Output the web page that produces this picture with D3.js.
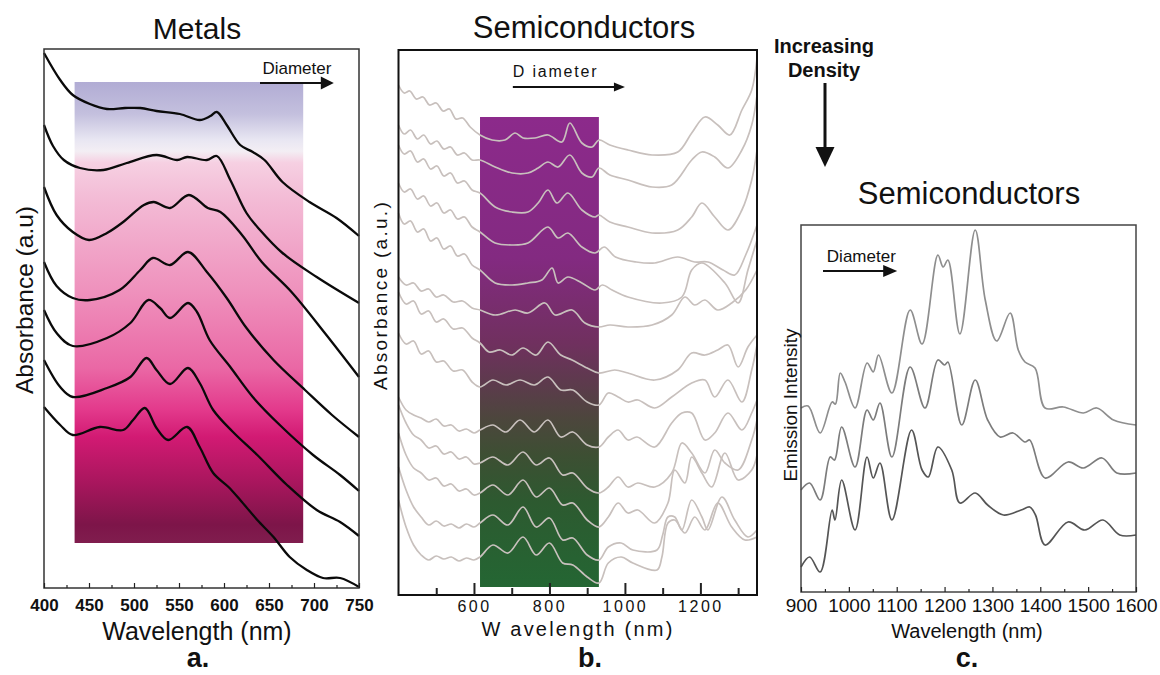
<!DOCTYPE html>
<html>
<head>
<meta charset="utf-8">
<script src="https://cdn.jsdelivr.net/npm/d3@7"></script>
<style>
  body { margin: 0; background: #fff; }
  text { font-family: "Liberation Sans", Arial, Helvetica, sans-serif; fill: #111; }
</style>
</head>
<body>
<div id="chart"></div>
<script>
// ---- panel a: metal nanoparticle absorbance, offset traces [nm, a.u.] ----
const metalTicks = [400, 450, 500, 550, 600, 650, 700, 750];
const metalMinorTicks = [425, 475, 525, 575, 625, 675, 725];
const metalTraces = [
  [[400,5.35],[418,5.08],[432,4.93],[451,4.84],[470,4.79],[490,4.80],[507,4.80],[525,4.77],[551,4.74],[573,4.68],[585,4.72],[592,4.76],[603,4.63],[618,4.43],[632,4.36],[645,4.28],[665,4.06],[695,3.86],[725,3.70],[750,3.52]],
  [[400,4.63],[410,4.42],[422,4.28],[440,4.20],[466,4.18],[492,4.25],[525,4.33],[548,4.28],[559,4.31],[581,4.28],[592,4.32],[607,4.08],[625,3.75],[640,3.58],[665,3.35],[703,3.11],[750,2.85]],
  [[400,4.01],[414,3.73],[432,3.56],[450,3.48],[470,3.55],[488,3.66],[511,3.83],[522,3.86],[540,3.80],[561,3.93],[582,3.80],[596,3.76],[620,3.53],[642,3.26],[675,2.96],[712,2.55],[750,2.11]],
  [[400,3.26],[414,3.02],[432,2.90],[451,2.88],[484,2.98],[507,3.18],[521,3.30],[540,3.23],[560,3.36],[581,3.16],[603,2.90],[625,2.60],[655,2.28],[690,1.98],[720,1.73],[750,1.51]],
  [[400,2.78],[414,2.55],[432,2.42],[470,2.50],[496,2.65],[516,2.88],[529,2.80],[540,2.70],[560,2.85],[570,2.76],[584,2.48],[607,2.21],[632,1.91],[662,1.63],[699,1.33],[729,1.13],[750,0.97]],
  [[400,2.28],[418,2.01],[432,1.91],[470,2.00],[496,2.11],[514,2.30],[525,2.18],[540,2.04],[560,2.20],[573,2.05],[588,1.78],[610,1.56],[637,1.33],[670,1.03],[703,0.78],[729,0.66],[750,0.52]],
  [[400,1.81],[418,1.63],[432,1.53],[462,1.61],[488,1.58],[499,1.68],[512,1.80],[525,1.60],[538,1.48],[559,1.61],[573,1.41],[588,1.15],[605,1.01],[618,0.88],[637,0.68],[655,0.51],[673,0.31],[692,0.18],[710,0.10],[729,0.10],[750,0.01]]
];
const metalBand = { x0: 434, x1: 688, y0: 0.45, y1: 5.06 };

// ---- panel b: semiconductor absorbance, offset traces [nm, a.u.] ----
const semiTicks = [600, 800, 1000, 1200];
const semiMinorTicks = [500, 700, 900, 1100, 1300];
const semiNm = [
  [400,415,430,447,465,482,500,518,535,552,570,590,616,648,682,709,730,762,796,833,854,886,913,931,960,1008,1072,1140,1177,1212,1246,1278,1310,1336,1350],
  [400,415,432,450,467,485,502,520,538,556,575,595,616,656,701,743,770,796,823,854,886,913,931,960,1008,1072,1124,1177,1204,1238,1273,1310,1336,1350],
  [400,415,432,450,467,485,502,520,538,556,575,595,616,656,701,743,770,796,820,849,886,921,931,960,1008,1072,1140,1177,1204,1238,1273,1310,1336,1350],
  [400,415,432,450,467,485,502,520,538,556,575,595,616,656,701,743,796,823,849,886,921,945,975,1030,1079,1140,1185,1220,1260,1291,1320,1350],
  [400,415,432,450,467,485,502,520,538,556,575,595,616,656,701,743,780,807,823,849,886,921,940,966,1008,1098,1151,1177,1204,1265,1300,1326,1350],
  [400,420,440,460,480,500,520,545,570,595,616,656,709,743,788,815,860,894,931,960,1008,1072,1124,1159,1185,1212,1246,1283,1320,1350],
  [400,420,440,460,480,500,520,545,570,595,616,640,670,700,730,765,796,830,860,900,931,973,1008,1079,1140,1177,1212,1246,1273,1300,1326,1350],
  [400,420,440,460,480,500,520,545,570,595,616,650,685,722,760,796,830,862,900,931,956,982,1008,1034,1079,1124,1177,1212,1238,1273,1310,1336,1350],
  [400,420,440,460,480,500,520,540,560,580,600,616,650,685,722,760,796,830,862,900,931,956,982,1008,1032,1079,1124,1151,1177,1212,1238,1273,1310,1336,1350],
  [400,420,440,460,480,500,520,540,560,580,600,616,650,690,730,765,800,835,862,900,931,956,982,1008,1034,1079,1124,1151,1177,1212,1238,1265,1300,1336,1350],
  [400,420,440,460,480,500,520,540,560,580,600,616,650,690,730,765,800,835,862,900,931,956,982,1008,1034,1079,1114,1132,1159,1177,1204,1230,1265,1300,1336,1350],
  [400,420,440,460,480,500,520,540,560,580,600,616,650,690,730,765,800,835,862,900,931,956,990,1021,1085,1100,1114,1132,1151,1177,1204,1220,1257,1291,1326,1350],
  [400,420,440,460,480,500,520,540,560,580,600,616,650,690,730,765,800,835,862,900,931,956,990,1021,1085,1098,1114,1132,1159,1185,1212,1246,1283,1318,1350]
];
const semiAbs = [
  [5.10,5.02,5.04,4.96,4.98,4.90,4.92,4.84,4.86,4.76,4.77,4.68,4.60,4.55,4.55,4.62,4.57,4.57,4.60,4.53,4.72,4.52,4.48,4.55,4.50,4.45,4.40,4.43,4.62,4.78,4.70,4.60,4.85,5.05,5.37],
  [4.70,4.61,4.65,4.56,4.60,4.51,4.54,4.46,4.48,4.40,4.42,4.35,4.35,4.28,4.22,4.22,4.27,4.33,4.28,4.40,4.22,4.18,4.27,4.20,4.15,4.08,4.10,4.35,4.43,4.38,4.27,4.45,4.70,5.00],
  [4.50,4.41,4.44,4.33,4.36,4.26,4.29,4.19,4.22,4.12,4.14,4.05,4.02,3.88,3.83,3.83,3.92,4.05,3.92,4.02,3.85,3.78,3.80,3.73,3.68,3.62,3.65,3.78,3.92,3.78,3.65,3.85,4.15,4.45],
  [4.12,4.03,4.06,3.96,3.99,3.89,3.92,3.82,3.85,3.76,3.78,3.68,3.63,3.52,3.50,3.52,3.68,3.57,3.62,3.48,3.42,3.48,3.38,3.33,3.32,3.38,3.33,3.33,3.25,3.20,3.40,3.70],
  [3.82,3.71,3.74,3.63,3.66,3.54,3.57,3.46,3.49,3.39,3.41,3.30,3.25,3.12,3.10,3.12,3.15,3.27,3.12,3.18,3.12,3.05,3.10,3.05,2.98,2.92,2.98,3.25,3.32,3.12,2.92,3.25,3.55],
  [3.18,3.10,3.12,3.04,3.06,2.98,3.00,2.93,2.94,2.87,2.85,2.80,2.85,2.82,2.92,2.80,2.85,2.72,2.68,2.70,2.68,2.70,2.80,2.98,2.90,2.95,2.85,2.92,3.05,3.25],
  [3.03,2.91,2.94,2.81,2.84,2.73,2.76,2.66,2.67,2.57,2.52,2.43,2.45,2.40,2.47,2.40,2.53,2.40,2.35,2.27,2.22,2.25,2.22,2.15,2.25,2.42,2.40,2.45,2.50,2.28,2.48,2.60],
  [2.62,2.51,2.54,2.41,2.44,2.33,2.34,2.24,2.25,2.13,2.08,2.15,2.10,2.15,2.10,2.18,2.05,2.05,1.93,1.90,2.02,1.98,1.93,1.95,1.87,1.98,2.12,2.15,1.98,2.15,1.93,2.25,2.50],
  [1.98,1.85,1.80,1.77,1.73,1.76,1.69,1.70,1.64,1.66,1.62,1.65,1.70,1.63,1.75,1.63,1.75,1.58,1.63,1.50,1.48,1.58,1.65,1.55,1.58,1.48,1.72,1.82,1.82,1.55,1.62,1.82,1.65,1.82,1.95],
  [1.90,1.72,1.60,1.55,1.47,1.49,1.41,1.43,1.36,1.38,1.31,1.32,1.38,1.30,1.43,1.30,1.37,1.20,1.22,1.07,1.02,1.08,1.18,1.08,1.12,1.08,1.22,1.52,1.42,1.22,1.45,1.32,1.25,1.55,1.75],
  [1.62,1.40,1.27,1.22,1.15,1.17,1.09,1.11,1.04,1.06,1.00,1.02,1.10,1.00,1.15,0.98,1.07,0.90,0.92,0.75,0.68,0.78,0.92,0.82,0.85,0.72,0.92,1.25,1.12,1.38,1.22,1.08,1.42,1.15,1.25,1.40],
  [1.28,1.05,0.88,0.78,0.70,0.74,0.69,0.71,0.67,0.71,0.68,0.72,0.80,0.70,0.88,0.68,0.77,0.55,0.57,0.40,0.35,0.48,0.52,0.45,0.45,0.60,0.78,0.78,0.65,0.95,0.78,0.65,0.98,0.75,0.58,0.65],
  [0.95,0.68,0.50,0.40,0.35,0.39,0.36,0.38,0.34,0.37,0.35,0.38,0.50,0.42,0.58,0.40,0.52,0.32,0.30,0.18,0.12,0.32,0.38,0.32,0.25,0.38,0.72,0.75,0.62,0.78,0.65,0.92,0.68,0.55,0.58]
];
const semiBand = { x0: 616, x1: 931, y0: 0.08, y1: 4.78 };

// ---- panel c: semiconductor emission, offset traces [nm, a.u.] ----
const emitTicks = [900, 1000, 1100, 1200, 1300, 1400, 1500, 1600];
const emitMinorTicks = [950, 1050, 1150, 1250, 1350, 1450, 1550];
const emitTraces = [
  [[900,1.84],[915,1.86],[940,1.59],[965,1.90],[972,1.88],[982,2.19],[992,2.10],[1013,1.84],[1038,2.29],[1051,2.20],[1062,2.37],[1090,1.99],[1128,2.82],[1153,2.48],[1186,3.37],[1197,3.25],[1207,3.32],[1232,2.58],[1264,3.62],[1285,2.92],[1309,2.51],[1337,2.79],[1354,2.42],[1368,2.30],[1389,2.24],[1410,1.84],[1448,1.85],[1490,1.79],[1518,1.84],[1553,1.72],[1600,1.67]],
  [[900,1.02],[918,1.09],[940,0.92],[961,1.35],[970,1.32],[985,1.65],[1013,1.25],[1038,1.82],[1051,1.72],[1065,1.89],[1090,1.35],[1128,2.25],[1159,1.84],[1186,2.32],[1200,2.27],[1207,2.30],[1236,1.67],[1264,2.12],[1290,1.72],[1316,1.55],[1343,1.59],[1368,1.50],[1378,1.52],[1410,1.14],[1458,1.30],[1490,1.24],[1529,1.34],[1560,1.19],[1600,1.19]],
  [[900,0.25],[918,0.35],[940,0.20],[965,0.82],[971,0.72],[985,1.12],[1013,0.62],[1038,1.35],[1051,1.14],[1065,1.29],[1090,0.72],[1131,1.62],[1153,1.22],[1166,1.15],[1186,1.45],[1215,1.22],[1232,0.89],[1264,0.99],[1290,0.87],[1323,0.77],[1360,0.82],[1378,0.85],[1390,0.77],[1410,0.47],[1458,0.70],[1493,0.62],[1531,0.72],[1566,0.57],[1600,0.57]]
];
const emitColors = ["#8e8e8e", "#7c7c7c", "#555"];

const svg = d3.select("#chart").append("svg")
  .attr("width", 1160)
  .attr("height", 675)
  .style("background", "#fff");

const defs = svg.append("defs");

function addGradient(id, stops) {
  const g = defs.append("linearGradient")
    .attr("id", id)
    .attr("x1", 0).attr("y1", 0).attr("x2", 0).attr("y2", 1);
  stops.forEach(s => g.append("stop").attr("offset", s[0]).attr("stop-color", s[1]));
}

addGradient("metalGrad", [
  [0, "#b1acd4"], [0.07, "#c4c0de"], [0.125, "#e8e6f2"], [0.15, "#f3eef4"],
  [0.175, "#f6d0e2"], [0.25, "#f3bcd6"], [0.45, "#ef92bd"], [0.62, "#ea68a5"],
  [0.71, "#e33a8c"], [0.77, "#d21a73"], [0.87, "#a8165d"], [0.96, "#7d1549"], [1, "#801d4e"]
]);
addGradient("semiGrad", [
  [0, "#8c2a8b"], [0.3, "#832a81"], [0.48, "#70305f"], [0.57, "#5c3b4c"],
  [0.64, "#4d463d"], [0.72, "#3d4f33"], [0.82, "#2d5a30"], [1, "#246633"]
]);

function bottomAxis(x, yPos, major, minor, sizes, pad, font) {
  const minorG = svg.append("g")
    .attr("transform", `translate(0,${yPos})`)
    .call(d3.axisBottom(x).tickValues(minor).tickSize(-sizes[1]).tickFormat(""));
  minorG.select(".domain").remove();
  minorG.selectAll("line").attr("stroke", "#222").attr("stroke-width", sizes[2]);

  const majorG = svg.append("g")
    .attr("transform", `translate(0,${yPos})`)
    .call(d3.axisBottom(x).tickValues(major).tickSize(-sizes[0]).tickPadding(pad).tickFormat(d3.format("d")));
  majorG.select(".domain").remove();
  majorG.selectAll("line").attr("stroke", "#222").attr("stroke-width", sizes[2]);
  majorG.attr("font-family", null).attr("font-size", null);
  majorG.selectAll("text")
    .style("font-size", font.size + "px")
    .style("font-weight", font.weight || "normal")
    .style("letter-spacing", (font.spacing || 0) + "px")
    .attr("fill", "#111");
}

function arrow(x1, y1, x2, y2, head, half, w) {
  const a = Math.atan2(y2 - y1, x2 - x1);
  const bx = x2 - head * Math.cos(a), by = y2 - head * Math.sin(a);
  svg.append("line")
    .attr("x1", x1).attr("y1", y1).attr("x2", bx + Math.cos(a)).attr("y2", by + Math.sin(a))
    .attr("stroke", "#111").attr("stroke-width", w);
  const pts = [
    [x2, y2],
    [bx - half * Math.sin(a), by + half * Math.cos(a)],
    [bx + half * Math.sin(a), by - half * Math.cos(a)]
  ];
  svg.append("polygon").attr("points", pts.map(p => p.join(",")).join(" ")).attr("fill", "#111");
}

function label(x, y, str, size, opts = {}) {
  const t = svg.append("text")
    .attr("x", x).attr("y", y)
    .attr("text-anchor", opts.anchor || "middle")
    .style("font-size", size + "px")
    .style("font-weight", opts.weight || "normal")
    .style("letter-spacing", (opts.spacing || 0) + "px")
    .text(str);
  if (opts.rotate) t.attr("transform", `rotate(-90,${x},${y})`);
  return t;
}

// ===== Panel a: Metals =====
const xa = d3.scaleLinear().domain([400, 750]).range([44, 359]);
const ya = d3.scaleLinear().domain([0, 5.39]).range([588, 49]);

svg.append("rect")
  .attr("x", xa(metalBand.x0)).attr("y", ya(metalBand.y1))
  .attr("width", xa(metalBand.x1) - xa(metalBand.x0))
  .attr("height", ya(metalBand.y0) - ya(metalBand.y1))
  .attr("fill", "url(#metalGrad)");

const lineA = d3.line().x(d => xa(d[0])).y(d => ya(d[1])).curve(d3.curveCatmullRom.alpha(0.5));
svg.append("g").selectAll("path")
  .data(metalTraces)
  .join("path")
  .attr("d", lineA)
  .attr("fill", "none")
  .attr("stroke", "#0a0a0a")
  .attr("stroke-width", 2.3)
  .attr("stroke-linejoin", "round");

svg.append("rect")
  .attr("x", 44).attr("y", 49).attr("width", 315).attr("height", 539)
  .attr("fill", "none").attr("stroke", "#333").attr("stroke-width", 1.5);

bottomAxis(xa, 588, metalTicks, metalMinorTicks, [5, 3, 1.2], 11, { size: 17, weight: "bold" });

label(197, 39, "Metals", 30);
label(197, 640, "Wavelength (nm)", 25);
label(198, 667, "a.", 27, { weight: "bold" });
label(33, 300, "Absorbance (a.u)", 24.5, { rotate: true });
label(xa(681), ya(5.14), "Diameter", 17);
arrow(xa(640), ya(5.05), xa(722), ya(5.05), 13, 6.5, 2);

// ===== Panel b: Semiconductors absorbance =====
const xb = d3.scaleLinear().domain([400, 1350]).range([398.5, 757]);
const yb = d3.scaleLinear().domain([0, 5.45]).range([595, 50]);

svg.append("rect")
  .attr("x", xb(semiBand.x0)).attr("y", yb(semiBand.y1))
  .attr("width", xb(semiBand.x1) - xb(semiBand.x0))
  .attr("height", yb(semiBand.y0) - yb(semiBand.y1))
  .attr("fill", "url(#semiGrad)");

const semiTraces = semiNm.map((nm, i) => nm.map((w, j) => [w, semiAbs[i][j]]));
const lineB = d3.line().x(d => xb(d[0])).y(d => yb(d[1])).curve(d3.curveCatmullRom.alpha(0.5));
svg.append("g").selectAll("path")
  .data(semiTraces)
  .join("path")
  .attr("d", lineB)
  .attr("fill", "none")
  .attr("stroke", "#c8c0bd")
  .attr("stroke-width", 1.7)
  .attr("stroke-linejoin", "round");

svg.append("rect")
  .attr("x", 398.5).attr("y", 50).attr("width", 757 - 398.5).attr("height", 545)
  .attr("fill", "none").attr("stroke", "#111").attr("stroke-width", 2);

bottomAxis(xb, 595, semiTicks, semiMinorTicks, [12, 7, 2], 6, { size: 16, spacing: 2.5 });

label(584, 38, "Semiconductors", 31);
label(578, 636, "W avelength (nm)", 20, { spacing: 2.2 });
label(590, 667, "b.", 27, { weight: "bold" });
label(387, 295, "Absorbance (a.u.)", 19, { rotate: true, spacing: 2.3 });
label(xb(703), yb(5.18), "D iameter", 16, { anchor: "start", spacing: 1.8 });
arrow(xb(703), yb(5.08), xb(1000), yb(5.08), 11, 4.5, 2);

// ===== Panel c: Semiconductors emission =====
const xc = d3.scaleLinear().domain([900, 1600]).range([801, 1136]);
const yc = d3.scaleLinear().domain([0, 3.67]).range([592, 225]);

const lineC = d3.line().x(d => xc(d[0])).y(d => yc(d[1])).curve(d3.curveCatmullRom.alpha(0.5));
svg.append("g").selectAll("path")
  .data(emitTraces)
  .join("path")
  .attr("d", lineC)
  .attr("fill", "none")
  .attr("stroke", (d, i) => emitColors[i])
  .attr("stroke-width", 1.7);

svg.append("rect")
  .attr("x", 801).attr("y", 225).attr("width", 335).attr("height", 367)
  .attr("fill", "none").attr("stroke", "#444").attr("stroke-width", 1.5);

bottomAxis(xc, 592, emitTicks, emitMinorTicks, [5, 3, 1.2], 6.5, { size: 19 });

label(969, 204, "Semiconductors", 31);
label(967, 638, "Wavelength (nm)", 20);
label(967, 667, "c.", 27, { weight: "bold" });
label(797, 405, "Emission Intensity", 19, { rotate: true });
label(xc(954), yc(3.30), "Diameter", 17, { anchor: "start" });
arrow(xc(946), yc(3.21), xc(1101), yc(3.21), 14, 6, 2);

// Increasing density annotation
label(824, 53, "Increasing", 20, { weight: "bold" });
label(824, 77, "Density", 20, { weight: "bold" });
arrow(825, 83, 825, 167, 20, 9.5, 3);
</script>
</body>
</html>
